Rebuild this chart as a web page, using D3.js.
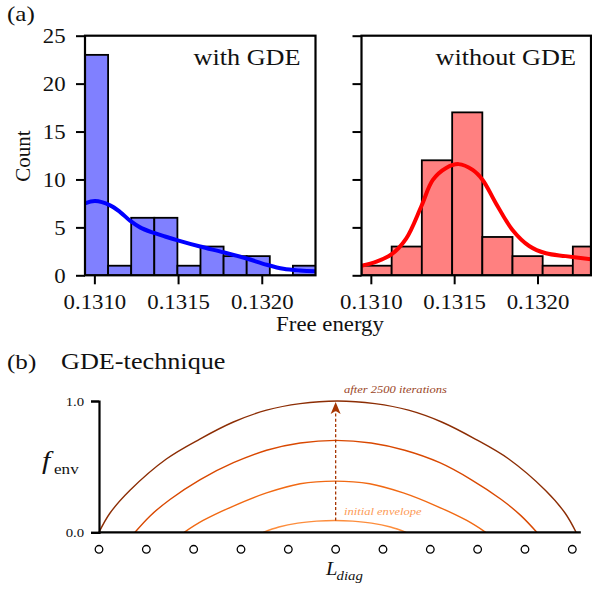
<!DOCTYPE html>
<html>
<head>
<meta charset="utf-8">
<script src="https://cdn.jsdelivr.net/npm/d3@7"></script>
<style>
  html, body { margin: 0; padding: 0; background: #fff; }
  svg { display: block; }
  text { font-family: "Liberation Serif", "Times New Roman", serif; fill: #111; }
</style>
</head>
<body>
<script>
// ---------------- data ----------------
const xDomain = [0.130944, 0.132321];
const xTicks = [0.1310, 0.1315, 0.1320];
const yTicks = [0, 5, 10, 15, 20, 25];

const gdeEdges = [0.130944, 0.131082, 0.131220, 0.131358, 0.131496, 0.131634, 0.131772, 0.131910, 0.132048, 0.132186, 0.132324];
const gdeCounts = [23, 1, 6, 6, 1, 3, 2, 2, 0, 1];
const gdeKdeX = [0.130944, 0.131004, 0.131094, 0.131154, 0.131213, 0.131273, 0.131351, 0.131422, 0.131498, 0.131632, 0.131771, 0.131910, 0.132030, 0.132129, 0.132229, 0.132324];
const gdeKdeY = [7.5, 7.75, 7.3, 6.6, 5.7, 5.0, 4.45, 4.05, 3.65, 3.0, 2.4, 1.75, 1.1, 0.68, 0.5, 0.42];

const noGdeEdges = [0.130944, 0.131125, 0.131306, 0.131488, 0.131669, 0.131850, 0.132031, 0.132212, 0.132394];
const noGdeCounts = [1, 3, 12, 17, 4, 2, 1, 3];
const noGdeKdeX = [0.130944, 0.131034, 0.131125, 0.131213, 0.131303, 0.131372, 0.131452, 0.131527, 0.131611, 0.131671, 0.131751, 0.131850, 0.131950, 0.132050, 0.132169, 0.132321];
const noGdeKdeY = [1.0, 1.42, 2.2, 3.86, 7.2, 9.95, 11.2, 11.6, 11.0, 9.95, 7.5, 4.73, 3.06, 2.3, 2.0, 1.67];

// panel (b)
const sites = [0, 1, 2, 3, 4, 5, 6, 7, 8, 9, 10];
const envTicks = [0, 1];
const envInitial = [[3.47, 0], [3.8, 0.04], [4.2, 0.07], [4.6, 0.085], [4.98, 0.09], [5.36, 0.085], [5.76, 0.07], [6.16, 0.04], [6.49, 0]];
const envStep1 = [[1.80, 0], [2.2, 0.09], [2.84, 0.2], [3.54, 0.3], [4.25, 0.37], [4.985, 0.39], [5.72, 0.37], [6.43, 0.30], [7.13, 0.2], [7.77, 0.09], [8.17, 0]];
const envStep2 = [[0.76, 0], [1.08, 0.125], [1.5, 0.25], [2.13, 0.40], [2.84, 0.53], [3.54, 0.625], [4.25, 0.68], [5.0, 0.70], [5.75, 0.68], [6.46, 0.625], [7.2, 0.53], [7.87, 0.40], [8.5, 0.25], [8.92, 0.125], [9.25, 0]];
const envFinal = [[0, 0], [0.23, 0.145], [0.655, 0.32], [1.43, 0.56], [2.13, 0.71], [2.84, 0.84], [3.54, 0.93], [4.25, 0.98], [5.04, 1.0], [5.83, 0.98], [6.54, 0.93], [7.24, 0.84], [7.95, 0.71], [8.65, 0.56], [9.43, 0.32], [9.85, 0.145], [10.08, 0]];
const envSeries = [envInitial, envStep1, envStep2, envFinal];
const envColors = ["#fd8d3c", "#f16913", "#d94801", "#8c2d04"];

// ---------------- drawing ----------------
const W = 592, H = 595;
const SX = 1.14; // horizontal text stretch of the reference
const svg = d3.select("body").append("svg").attr("width", W).attr("height", H);

function txt(g, x, y, s, o = {}) {
  const t = g.append("text")
    .attr("transform", `translate(${x},${y}) scale(${SX},1)` + (o.rotate ? ` rotate(${o.rotate})` : ""))
    .attr("text-anchor", o.anchor || "start")
    .style("font-size", (o.size || 20) + "px")
    .text(s);
  if (o.italic) t.style("font-style", "italic");
  if (o.fill) t.style("fill", o.fill);
  return t;
}

const yA = d3.scaleLinear().domain([0, 25]).range([275.3, 35.7]);

function histPanel(x0, x1, edges, counts, kx, ky, barFill, lineColor, label, showYLabels, id) {
  const x = d3.scaleLinear().domain(xDomain).range([x0, x1]);
  const g = svg.append("g");
  g.append("clipPath").attr("id", id).append("rect")
    .attr("x", x0).attr("y", yA(25)).attr("width", x1 - x0).attr("height", yA(0) - yA(25));
  const plot = g.append("g").attr("clip-path", `url(#${id})`);
  const bins = counts.map((c, i) => ({ a: edges[i], b: edges[i + 1], c }));
  plot.selectAll("rect.bar").data(bins).join("rect")
    .attr("x", d => x(d.a)).attr("width", d => x(d.b) - x(d.a))
    .attr("y", d => yA(d.c)).attr("height", d => yA(0) - yA(d.c))
    .attr("fill", barFill).attr("stroke", "#000").attr("stroke-width", 1.8);
  const line = d3.line().x(d => x(d[0])).y(d => yA(d[1])).curve(d3.curveCatmullRom.alpha(0.5));
  plot.append("path").datum(kx.map((v, i) => [v, ky[i]]))
    .attr("d", line).attr("fill", "none").attr("stroke", lineColor).attr("stroke-width", 4);

  // frame
  g.append("rect").attr("x", x0).attr("y", yA(25)).attr("width", x1 - x0).attr("height", yA(0) - yA(25))
    .attr("fill", "none").attr("stroke", "#000").attr("stroke-width", 2.2);

  // axes
  const ax = g.append("g").attr("transform", `translate(0,${yA(0)})`)
    .call(d3.axisBottom(x).tickValues(xTicks).tickFormat(d3.format(".4f")).tickSize(9).tickSizeOuter(0));
  ax.select(".domain").remove();
  ax.selectAll("line").attr("stroke", "#000").attr("stroke-width", 2);
  ax.selectAll("text").attr("y", 34).attr("dy", 0).attr("transform", `scale(${SX},1)`)
    .style("font-size", "20px").style("font-family", "Liberation Serif").style("fill", "#111");

  const ay = g.append("g").attr("transform", `translate(${x0},0)`)
    .call(d3.axisLeft(yA).tickValues(yTicks).tickSize(9).tickSizeOuter(0).tickPadding(8));
  ay.select(".domain").remove();
  ay.selectAll("line").attr("stroke", "#000").attr("stroke-width", 2);
  if (showYLabels) {
    ay.selectAll("text").attr("dy", "0.34em").attr("transform", `scale(${SX},1)`)
      .style("font-size", "20px").style("font-family", "Liberation Serif").style("fill", "#111");
  } else {
    ay.selectAll("text").remove();
  }
  txt(g, x1 - 15, 65, label, { size: 23, anchor: "end" });
}

histPanel(85, 315.5, gdeEdges, gdeCounts, gdeKdeX, gdeKdeY, "#8080ff", "#0000ff", "with GDE", true, "clipA");
histPanel(361.5, 591, noGdeEdges, noGdeCounts, noGdeKdeX, noGdeKdeY, "#ff8080", "#ff0000", "without GDE", false, "clipB");

txt(svg, 7, 21, "(a)", { size: 22 });
txt(svg, 330, 331, "Free energy", { size: 20, anchor: "middle" });
svg.append("text")
  .attr("transform", `translate(30,156) rotate(-90)`)
  .attr("text-anchor", "middle").style("font-size", "21px").text("Count");

// ---------------- panel (b) ----------------
txt(svg, 7, 369, "(b)", { size: 22 });
txt(svg, 61, 369, "GDE-technique", { size: 23 });

const xB = d3.scaleLinear().domain([0, 10]).range([99, 572.3]);
const yB = d3.scaleLinear().domain([0, 1]).range([532.3, 401]);
const gb = svg.append("g");

const envLine = d3.line().x(d => xB(d[0])).y(d => yB(d[1])).curve(d3.curveCatmullRom.alpha(0.5));
gb.selectAll("path.env").data(envSeries).join("path")
  .attr("class", "env").attr("d", envLine).attr("fill", "none")
  .attr("stroke", (d, i) => envColors[i]).attr("stroke-width", 1.4);

// arrow
const arrowColor = "#a63603";
gb.append("line").attr("x1", xB(5)).attr("x2", xB(5)).attr("y1", yB(0.09)).attr("y2", yB(0.93))
  .attr("stroke", arrowColor).attr("stroke-width", 1.3).attr("stroke-dasharray", "3,2.2");
gb.append("path")
  .attr("d", `M${xB(5)},${yB(1) + 1} L${xB(5) - 5},${yB(1) + 13} L${xB(5)},${yB(1) + 10} L${xB(5) + 5},${yB(1) + 13} Z`)
  .attr("fill", arrowColor);

// axes
gb.append("line").attr("x1", xB(0)).attr("x2", xB(10.18)).attr("y1", yB(0)).attr("y2", yB(0))
  .attr("stroke", "#000").attr("stroke-width", 2.2);
const ayB = gb.append("g").attr("transform", `translate(${xB(0)},0)`)
  .call(d3.axisLeft(yB).tickValues(envTicks).tickFormat(d3.format(".1f")).tickSize(8).tickPadding(5));
ayB.select(".domain").attr("stroke", "#000").attr("stroke-width", 2.2);
ayB.selectAll("line").attr("stroke", "#000").attr("stroke-width", 2);
ayB.selectAll("text").attr("dy", "0.34em").attr("transform", `scale(${SX},1)`)
  .style("font-size", "13px").style("font-family", "Liberation Serif").style("fill", "#111");

// sites
gb.selectAll("circle.site").data(sites).join("circle")
  .attr("cx", d => xB(d)).attr("cy", 549.3).attr("r", 3.8)
  .attr("fill", "#fff").attr("stroke", "#000").attr("stroke-width", 1.3);

txt(gb, 344, 393, "after 2500 iterations", { size: 11, italic: true, fill: "#9a4526" });
txt(gb, 344, 515, "initial envelope", { size: 11, italic: true, fill: "#fd9a55" });

txt(gb, 42, 469, "f", { size: 26, italic: true });
txt(gb, 54, 474, "env", { size: 15 });
txt(gb, 326, 575, "L", { size: 18, italic: true });
txt(gb, 336.5, 580, "diag", { size: 13, italic: true });
</script>
</body>
</html>
